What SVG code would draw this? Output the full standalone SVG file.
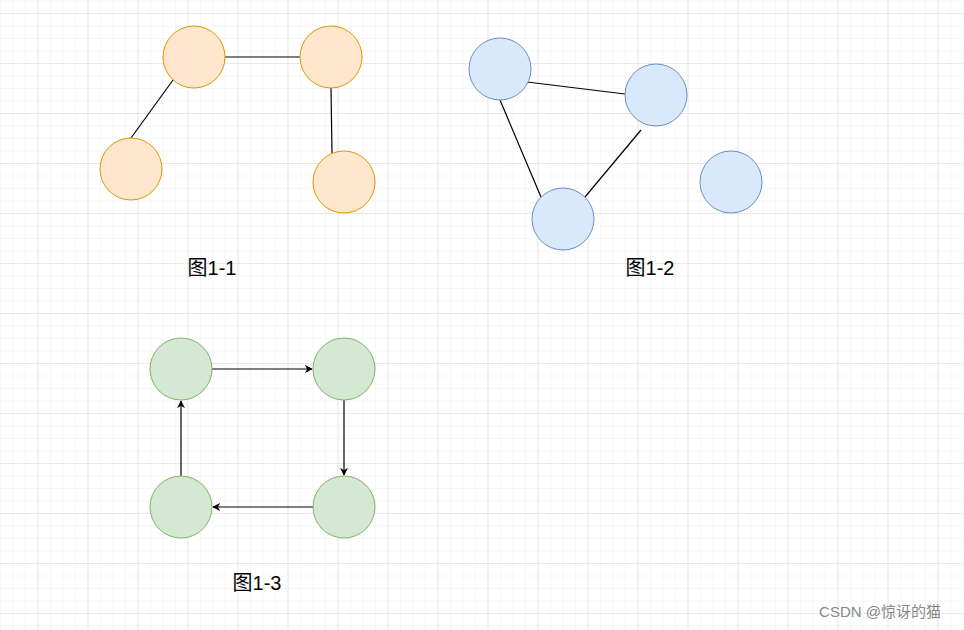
<svg xmlns="http://www.w3.org/2000/svg" width="964" height="630" viewBox="0 0 964 630">
<style>
.o{fill:#ffe6cc;stroke:#d79b00;stroke-width:1}
.b{fill:#dae8fc;stroke:#6c8ebf;stroke-width:1}
.g{fill:#d5e8d4;stroke:#82b366;stroke-width:1}
.e{stroke:#000;stroke-width:1.2;fill:none}
.t{font-family:"Liberation Sans","Noto Sans CJK SC",sans-serif;font-size:20px;fill:#000;text-anchor:middle}
</style>
<defs>
<pattern id="mn" width="12.5" height="12.5" patternUnits="userSpaceOnUse" x="0" y="0.5"><path d="M0 0H12.5M0 0V12.5" stroke="#f0f0f0" stroke-width="1" fill="none"/></pattern>
<pattern id="mj" width="50" height="50" patternUnits="userSpaceOnUse" x="37.5" y="13"><path d="M0 0H50M0 0V50" stroke="#dcdcdc" stroke-width="1" fill="none"/></pattern>
<marker id="a" viewBox="0 0 10 10" refX="9" refY="5" markerWidth="8" markerHeight="8" orient="auto" markerUnits="userSpaceOnUse"><path d="M0 0L10 5L0 10L3 5Z" fill="#000"/></marker>
</defs>
<rect width="964" height="630" fill="#fff"/>
<rect width="964" height="630" fill="url(#mn)"/>
<rect width="964" height="630" fill="url(#mj)"/>
<g id="connectors">
<line class="e" x1="225" y1="57" x2="300" y2="57"/>
<line class="e" x1="173" y1="80" x2="131" y2="138"/>
<line class="e" x1="331" y1="88" x2="332" y2="154"/>
<line class="e" x1="527" y1="82" x2="625" y2="94"/>
<line class="e" x1="500" y1="100" x2="541" y2="197"/>
<line class="e" x1="641" y1="130" x2="585" y2="197"/>
<line class="e" x1="212" y1="369" x2="312" y2="369" marker-end="url(#a)"/>
<line class="e" x1="344" y1="400" x2="344" y2="475" marker-end="url(#a)"/>
<line class="e" x1="313" y1="507" x2="213" y2="507" marker-end="url(#a)"/>
<line class="e" x1="181" y1="476" x2="181" y2="401" marker-end="url(#a)"/>
</g>
<g id="o1"><circle class="o" cx="194" cy="57" r="31"/></g>
<g id="o2"><circle class="o" cx="331" cy="57" r="31"/></g>
<g id="o3"><circle class="o" cx="131" cy="169" r="31"/></g>
<g id="o4"><circle class="o" cx="344" cy="182" r="31"/></g>
<g id="b1"><circle class="b" cx="500" cy="69" r="31"/></g>
<g id="b2"><circle class="b" cx="656" cy="95" r="31"/></g>
<g id="b3"><circle class="b" cx="563" cy="219" r="31"/></g>
<g id="b4"><circle class="b" cx="731" cy="182" r="31"/></g>
<g id="g1"><circle class="g" cx="181" cy="369" r="31"/></g>
<g id="g2"><circle class="g" cx="344" cy="369" r="31"/></g>
<g id="g3"><circle class="g" cx="344" cy="507" r="31"/></g>
<g id="g4"><circle class="g" cx="181" cy="507" r="31"/></g>
<g id="l1"><text class="t" x="212" y="275">图1-1</text></g>
<g id="l2"><text class="t" x="650" y="275">图1-2</text></g>
<g id="l3"><text class="t" x="257" y="590">图1-3</text></g>
<text x="880" y="617" font-family="Liberation Sans,'Noto Sans CJK SC',sans-serif" font-size="15" fill="#888" text-anchor="middle">CSDN @惊讶的猫</text>
</svg>
